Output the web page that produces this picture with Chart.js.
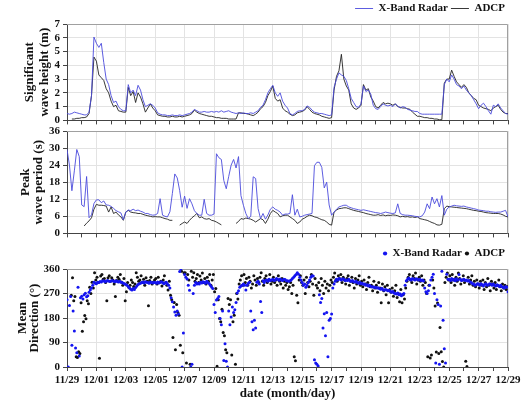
<!DOCTYPE html>
<html>
<head>
<meta charset="utf-8">
<script src="https://cdn.jsdelivr.net/npm/chart.js@4.4.0/dist/chart.umd.min.js"></script>
<style>
  html, body { margin: 0; padding: 0; background: #fff; }
  #wrap { position: relative; width: 527px; height: 403px; overflow: hidden; }
  canvas { position: absolute; left: 0; }
</style>
</head>
<body>
<div id="wrap">
  <canvas id="hs-chart" width="527" height="130" style="top:0px"></canvas>
  <canvas id="tp-chart" width="527" height="123" style="top:120px"></canvas>
  <canvas id="dir-chart" width="527" height="162" style="top:241px"></canvas>
</div>
<script>
// x axis is in days since 11/29 00:00
const dateLabels = ['11/29', '12/01', '12/03', '12/05', '12/07', '12/09', '12/11', '12/13',
  '12/15', '12/17', '12/19', '12/21', '12/23', '12/25', '12/27', '12/29'];

const LINE_STEP = 1 / 6;   // 4 h
const DIR_STEP = 1 / 12;   // 2 h

// significant wave height (m), one row per day
const hsRadar = [
  0.5, 0.45, 0.5, 0.6, 0.55, 0.5,
  0.45, 0.4, 0.4, 0.6, 1.8, 6.05,
  5.6, 5.3, 5.6, 4.2, 3.0, 2.6,
  1.8, 1.3, 1.4, 1.0, 0.8, 0.7,
  0.7, 2.6, 2.0, 2.2, 1.8, 2.55,
  2.2, 1.5, 1.0, 1.1, 1.2, 1.1,
  0.9, 0.55, 0.45, 0.4, 0.4, 0.35,
  0.35, 0.4, 0.35, 0.35, 0.4, 0.35,
  0.4, 0.45, 0.5, 0.6, 0.8, 0.7,
  0.6, 0.6, 0.65, 0.6, 0.6, 0.65,
  0.6, 0.65, 0.6, 0.7, 0.6, 0.65,
  0.7, 0.6, 0.55, 0.5, 0.55, 0.5,
  0.55, 0.5, 0.5, 0.55, 0.5, 0.6,
  0.7, 0.95, 1.1, 1.5, 2.0, 2.3,
  2.55, 2.0, 1.75, 2.0, 1.4, 1.1,
  0.9, 0.5, 0.4, 0.5, 0.65, 0.7,
  0.7, 0.8, 1.05, 0.95, 0.75, 0.6,
  0.55, 0.5, 0.5, 0.45, 0.4, 0.35,
  0.4, 2.4, 3.0, 3.45, 3.3, 3.2,
  2.9, 2.3, 1.6, 1.3, 1.0, 0.95,
  1.2, 2.5, 2.1, 2.2, 1.9, 1.1,
  0.85, 0.8, 1.0, 1.2, 1.1, 1.05,
  1.1, 1.0, 1.2, 1.05, 0.9, 1.0,
  0.95, 0.8, 0.75, 0.7, 0.65, 0.65,
  0.5, 0.45, 0.45, 0.45, 0.45, 0.45,
  0.45, 0.45, 0.45, 0.45, 2.6, 3.0,
  2.8, 3.3, 3.0, 2.6, 2.5, 2.3,
  2.5, 2.2, 2.0, 1.8, 1.5, 1.2,
  0.85, 1.1, 1.25, 1.0, 0.7, 0.45,
  1.1, 1.0, 1.2, 0.9, 0.7, 0.5, 0.45
];
const hsAdcp = [
  null, null, 0.1, 0.1, 0.15, 0.15,
  0.2, 0.2, 0.25, 0.5, 1.8, 4.6,
  4.3, 3.3, 3.1, 2.9, 2.3, 2.0,
  1.4, 1.0, 1.1, 0.7, 0.65, 0.6,
  0.6, 2.4, 1.8, 2.1, 1.3, 2.0,
  1.7, 1.2, 0.6, 0.9, 1.2, 0.9,
  0.7, 0.4, 0.35, 0.3, 0.3, 0.25,
  0.25, 0.3, 0.25, 0.25, 0.3, 0.25,
  0.3, 0.35, 0.4, 0.5, 0.75, 0.6,
  0.5, 0.45, 0.4, 0.35, 0.3, 0.3,
  0.25, 0.2, 0.2, 0.15, 0.15, 0.15,
  0.1, 0.1, 0.1, 0.1, 0.55, 0.55,
  0.5, 0.5, 0.45, 0.4, 0.35, 0.45,
  0.6, 0.85, 1.0, 1.3, 1.8, 2.1,
  2.5, 1.6, 1.4, 1.5, 0.9, 0.7,
  0.6, 0.45, 0.35, 0.4, 0.55, 0.6,
  0.65, 0.75, 1.0, 0.8, 0.6, 0.5,
  0.45, 0.4, 0.3, 0.25, 0.2, 0.15,
  0.2, 2.2, 3.2, 3.6, 4.8, 3.0,
  2.5, 2.2, 1.2, 0.9, 0.8, 0.9,
  1.1, 2.6, 2.2, 2.3, 1.7, 1.4,
  1.0, 0.9, 1.1, 1.3, 1.2, 1.25,
  1.2, 1.1, 1.2, 1.0, 0.95, 0.9,
  0.9, 0.85, 0.8, 0.6, 0.45, 0.3,
  0.3, 0.25, 0.2, 0.2, 0.15, 0.15,
  0.1, 0.1, 0.05, 0.05, 2.7, 3.0,
  3.0, 3.65, 3.2, 2.8, 2.6, 2.4,
  2.6, 2.4, 2.0, 1.8, 1.6, 1.5,
  1.1, 1.0, 0.9, 0.85, 0.8, 0.7,
  0.9, 1.0, 1.1, 0.8, 0.6, 0.5, 0.5
];

// peak wave period (s)
const tpRadar = [
  29.5, 24, 15, 22, 29.5, 27,
  10, 9.4, 20, 5.5, 6.5, 10.5,
  11.8, 11.8, 10.8, 11.4, 10.0, 9.9,
  9.5, 8.8, 8.0, 7.6, 7.2, 4.8,
  7.5, 8.2, 8.0, 8.5, 8.0, 8.2,
  7.8, 7.5, 7.0, 7.0, 6.6, 6.4,
  6.5, 7.0, 12.2, 6.4, 6.0, 5.8,
  7.6, 14.0, 20.9, 19.5, 15.0, 9.2,
  13.1, 8.8, 12.2, 10.4, 8.0, 7.0,
  6.4, 6.4, 12.0, 7.0, 6.4, 6.4,
  6.8, 28, 26.6, 26, 18.6, 15.7,
  20, 24, 26, 23, 27, 13.3,
  9.9, 7.0, 5.2, 6.0, 19.9, 19.3,
  8.7, 5.2, 7.0, 5.0, 6.5, 8.5,
  9.3, 8.5, 8.1, 7.5, 6.4, 6.8,
  6.8, 7.0, 13.6, 6.4, 8.5, 5.8,
  6.0, 6.4, 6.6, 6.8, 7.0, 23.8,
  25, 25, 23.2, 16, 18, 10,
  6.4, 7.5, 8.5, 9.3, 9.6, 9.9,
  9.9, 9.3, 9.0, 8.7, 8.5, 8.3,
  8.1, 8.3, 8.1, 7.9, 7.7, 7.5,
  7.3, 7.2, 7.0, 7.2, 7.5, 7.3,
  7.1, 7.0, 7.2, 10.4, 7.0, 6.6,
  6.4, 6.4, 6.3, 6.2, 6.0, 5.9,
  5.8, 6.2, 7.5, 10.4, 8.7, 12.8,
  10.4, 12.2, 9.3, 13.3, 6.4, 8.5,
  9.3, 9.6, 9.9, 9.7, 9.6, 9.5,
  9.6, 9.3, 9.1, 8.9, 8.7, 8.5,
  8.2, 8.1, 8.0, 7.8, 7.8, 7.6,
  7.5, 7.4, 7.5, 7.5, 7.8, 8.1, 5.8
];
const tpAdcp = [
  null, null, null, null, null, null,
  null, 2.6, 3.6, 4.4, 5.5, 8.5,
  10.2, 9.9, 9.9, 9.8, 9.6, 7.5,
  9.3, 7.0, 7.5, 6.5, 5.8, 4.6,
  7.5, 8.1, 7.5, 7.3, 7.2, 7.0,
  7.0, 6.7, 6.4, 6.2, 6.0, 5.8,
  5.9, 5.8, 5.8, 5.5, 5.2, 5.0,
  4.6, 4.6, null, null, 2.9, 3.5,
  4.0, 3.5, 4.6, 5.5, 6.2, 7.0,
  5.5, 5.8, 5.2, 5.0, 5.2, 4.6,
  4.4, 4.0, 3.5, 3.0, null, null,
  null, null, null, 3.5, 4.2, 5.2,
  5.0, 5.4, 5.2, 5.0, 4.6, 4.0,
  4.6, 5.2, 4.8, 3.5, 5.0, 7.0,
  8.1, 7.5, 7.0, 5.8, 6.2, 6.4,
  6.4, 5.8, 5.2, 4.6, 3.5, 4.0,
  5.0, 5.4, 6.0, 6.4, 6.2, 5.8,
  5.6, 5.2, 4.8, 4.6, 4.0, 3.2,
  2.9, 7.5, 8.2, 8.7, 8.8, 9.0,
  9.0, 8.7, 8.4, 8.1, 7.9, 7.7,
  7.5, 7.3, 7.0, 6.8, 6.6, 6.4,
  6.4, 6.6, 6.3, 6.5, 6.2, 6.4,
  6.3, 6.5, 6.4, 6.2, 5.8, 6.0,
  5.8, 5.9, 5.7, 5.8, 5.6, 5.8,
  5.2, 5.0, 4.8, 4.6, 4.2, 3.8,
  3.5, 3.0, 2.9, 3.2, 8.7, 9.6,
  9.4, 9.3, 9.2, 9.1, 9.0, 8.9,
  8.8, 8.7, 8.5, 8.3, 8.1, 8.0,
  7.8, 7.7, 7.5, 7.3, 7.2, 7.1,
  7.0, 7.0, 7.0, 6.8, 6.5, 6.0, 5.8
];

// mean direction (deg), 2-hourly; ADCP samples sit 1 h later
const dirRadar = [
  247, 0, 226, 259, 80, 206, 132, 70, 52, 293, 40, 254,
  260, 250, 265, 271, 258, 262, 275, 283, 290, 300, 311, 308,
  306, 311, 310, 314, 312, 316, 317, 313, 315, 318, 316, 314,
  316, 318, 315, 313, 317, 314, 312, 315, 311, 310, 308, 306,
  303, 300, 296, 290, 286, 283, 288, 285, 292, 298, 303, 306,
  308, 310, 312, 309, 313, 311, 310, 308, 312, 310, 309, 311,
  310, 308, 312, 309, 311, 313, 310, 306, 309, 311, 305, 300,
  290, 254, 240, 220, 202, 190, 206, 195, 351, 360, 0, 125,
  340, 330, 323, 300, 282, 0, 10, 270, 300, 310, 305, 308,
  305, 311, 309, 313, 311, 308, 315, 310, 307, 300, 294, 288,
  230, 200, 246, 252, 259, 178, 155, 206, 24, 85, 21, 0,
  206, 155, 184, 220, 200, 210, 237, 272, 280, 293, 298, 300,
  305, 300, 283, 300, 308, 311, 206, 166, 137, 172, 143, 311,
  315, 305, 241, 200, 317, 310, 318, 320, 315, 322, 318, 320,
  322, 318, 320, 325, 322, 319, 323, 320, 318, 322, 321, 317,
  317, 315, 317, 320, 325, 330, 335, 340, 346, 341, 330, 320,
  310, 300, 305, 293, 300, 310, 320, 330, 335, 334, 27, 15,
  10, 4, 265, 237, 252, 143, 196, 115, 200, 38, 172, 178,
  195, 290, 305, 315, 322, 320, 325, 322, 320, 324, 322, 318,
  320, 318, 322, 316, 315, 318, 313, 312, 315, 310, 308, 311,
  306, 308, 304, 305, 300, 302, 298, 300, 296, 294, 295, 292,
  293, 290, 291, 288, 286, 289, 284, 282, 285, 283, 280, 282,
  278, 275, 277, 272, 270, 268, 272, 265, 268, 262, 266, 270,
  300, 317, 322, 327, 322, 320, 325, 322, 320, 324, 322, 320,
  322, 318, 320, 316, 290, 276, 270, 280, 300, 320, 330, 341,
  270, 15, 247, 230, 10, 224, 352, 172, 67, 15, 341, 322,
  322, 318, 325, 320, 322, 317, 324, 320, 340, 322, 318, 320,
  322, 318, 320, 316, 318, 312, 310, 306, 305, 300, 302, 306,
  305, 300, 306, 302, 298, 304, 306, 300, 302, 306, 304, 300,
  305, 300, 298, 302, 299, 296, 300, 295, 293, 290, 296, 293, 276
];
const dirAdcp = [
  null, null, null, 264, 328, 243, 259, 38, 35, 56, 50, 236,
  131, 166, 189, 177, 243, 232, 293, 270, 311, 290, 346, 320,
  330, 310, 32, 334, 340, 322, 325, 310, 243, 328, 335, 315,
  328, 320, 305, 259, 318, 330, 322, 340, 312, 300, 325, 243,
  276, 310, 292, 300, 320, 310, 296, 305, 346, 330, 315, 320,
  335, 310, 322, 300, 328, 315, 225, 318, 330, 305, 312, 320,
  325, 305, 330, 310, 315, 298, 320, 335, 310, 300, 283, 315,
  264, 247, 108, 237, 63, 230, 200, 190, 80, 352, 52, 346,
  346, 15, 340, 320, 10, 352, 330, 346, 315, 325, 340, 310,
  334, 320, 345, 310, 325, 305, 330, 315, 340, 300, 320, 340,
  276, 288, 3, 247, 178, 166, 212, 127, 115, 63, 52, 252,
  230, 247, 44, 166, 190, 10, 270, 250, 305, 320, 335, 300,
  340, 310, 325, 300, 330, 315, 290, 305, 335, 320, 300, 325,
  310, 330, 346, 315, 300, 325, 335, 310, 320, 340, 305, 315,
  330, 310, 320, 300, 335, 315, 305, 325, 290, 315, 300, 310,
  285, 295, 310, 270, 300, 38, 23, 264, 236, 320, 335, 310,
  300, 320, 270, 330, 310, 295, 315, 340, 305, 264, 325, 300,
  290, 310, 280, 325, 300, 270, 315, 290, 305, 280, 300, 320,
  310, 330, 345, 320, 315, 335, 325, 340, 310, 330, 320, 305,
  325, 335, 300, 315, 330, 310, 290, 325, 305, 320, 335, 300,
  315, 295, 320, 305, 285, 310, 330, 295, 300, 280, 315, 290,
  300, 275, 310, 290, 236, 305, 280, 295, 265, 300, 236, 285,
  275, 290, 260, 280, 300, 255, 270, 240, 285, 236, 265, 250,
  290, 315, 330, 340, 320, 310, 335, 325, 345, 305, 320, 330,
  315, 335, 300, 320, 310, 270, 38, 300, 33, 44, 320, 290,
  224, 55, 235, 50, 145, 56, 20, 0, 310, 330, 345, 320,
  335, 310, 340, 320, 300, 330, 315, 345, 325, 305, 320, 335,
  310, 21, 2, 330, 305, 320, 335, 300, 315, 295, 320, 305,
  290, 315, 300, 320, 285, 310, 295, 325, 300, 280, 315, 305,
  290, 310, 285, 300, 320, 295, 280, 305, 290, 300, 285, 295
];

const toPoints = (vals, step, offset) => vals.map((v, i) => ({ x: offset + i * step, y: v }));

const SERIF = 'Liberation Serif';
const tickFont = { family: SERIF, size: 11, weight: 'bold' };

// top and right edges of the plot box
const frame = {
  id: 'frame',
  beforeDatasetsDraw(chart) {
    const { ctx, chartArea: a } = chart;
    ctx.save();
    ctx.strokeStyle = '#a0a0a0';
    ctx.lineWidth = 1;
    ctx.beginPath();
    ctx.moveTo(a.left, Math.round(a.top) + 0.5);
    ctx.lineTo(Math.round(a.right) - 0.5, Math.round(a.top) + 0.5);
    ctx.lineTo(Math.round(a.right) - 0.5, a.bottom);
    ctx.stroke();
    ctx.restore();
  }
};

function panelOptions(o) {
  return {
    responsive: false,
    animation: false,
    layout: { padding: { top: o.padTop, right: 19, bottom: o.padBottom, left: 0 } },
    plugins: {
      tooltip: { enabled: false },
      legend: o.legend ? {
        position: 'top',
        align: 'end',
        labels: Object.assign({
          font: { family: SERIF, size: 11, weight: 'bold' },
          color: '#111',
          padding: 3
        }, o.legend)
      } : { display: false }
    },
    scales: {
      x: {
        type: 'linear',
        min: 0,
        max: 30,
        afterFit(s) { s.height = o.xHeight; },
        ticks: {
          stepSize: 1,
          autoSkip: false,
          maxRotation: 0,
          padding: 3,
          font: tickFont,
          color: '#111',
          callback: v => (o.dates && v % 2 === 0) ? dateLabels[v / 2] : ''
        },
        grid: {
          color: c => (c.tick && c.tick.value % 2 === 0) ? '#e3e3e3' : 'rgba(0,0,0,0)',
          tickColor: '#444',
          tickLength: 4
        },
        border: { color: '#444' },
        title: o.dates ? {
          display: true,
          text: 'date (month/day)',
          font: { family: SERIF, size: 13, weight: 'bold' },
          color: '#111',
          padding: { top: 0, bottom: 2 }
        } : { display: false }
      },
      y: {
        min: o.yMin,
        max: o.yMax,
        afterFit(s) { s.width = 67; },
        ticks: { stepSize: o.yStep, autoSkip: false, font: tickFont, color: '#111', padding: 3 },
        grid: { color: '#e3e3e3', tickColor: '#444', tickLength: 4 },
        border: { color: '#444' },
        title: {
          display: true,
          text: o.yTitle,
          font: { family: SERIF, size: 13, weight: 'bold', lineHeight: o.titleLh },
          color: '#111',
          padding: { top: o.titlePad, bottom: 0 }
        }
      }
    }
  };
}

const radarLine = '#4b4bdc';
const adcpLine = '#222222';

new Chart(document.getElementById('hs-chart'), {
  type: 'line',
  data: {
    datasets: [
      { label: 'X-Band Radar', data: toPoints(hsRadar, LINE_STEP, 0), borderColor: radarLine,
        backgroundColor: radarLine, borderWidth: 0.9, pointRadius: 0, spanGaps: false },
      { label: 'ADCP', data: toPoints(hsAdcp, LINE_STEP, 0), borderColor: adcpLine,
        backgroundColor: adcpLine, borderWidth: 0.9, pointRadius: 0, spanGaps: false }
    ]
  },
  options: panelOptions({
    padTop: 0, padBottom: 4, xHeight: 5, dates: false,
    legend: { usePointStyle: true, pointStyle: 'line', pointStyleWidth: 18 },
    yMin: 0, yMax: 7, yStep: 1,
    yTitle: ['Significant', 'wave height (m)'], titleLh: '15px', titlePad: 22.5
  }),
  plugins: [frame]
});

new Chart(document.getElementById('tp-chart'), {
  type: 'line',
  data: {
    datasets: [
      { label: 'X-Band Radar', data: toPoints(tpRadar, LINE_STEP, 0), borderColor: radarLine,
        borderWidth: 0.9, pointRadius: 0, spanGaps: false },
      { label: 'ADCP', data: toPoints(tpAdcp, LINE_STEP, 0), borderColor: adcpLine,
        borderWidth: 0.9, pointRadius: 0, spanGaps: false }
    ]
  },
  options: panelOptions({
    padTop: 11, padBottom: 2, xHeight: 5, dates: false, legend: null,
    yMin: 0, yMax: 36, yStep: 6,
    yTitle: ['Peak', 'wave period (s)'], titleLh: '13px', titlePad: 19.5
  }),
  plugins: [frame]
});

new Chart(document.getElementById('dir-chart'), {
  type: 'scatter',
  data: {
    datasets: [
      { label: 'X-Band Radar', data: toPoints(dirRadar, DIR_STEP, 0), backgroundColor: '#1414f0',
        borderWidth: 0, pointRadius: 1.5 },
      { label: 'ADCP', data: toPoints(dirAdcp, DIR_STEP, DIR_STEP / 2), backgroundColor: '#111111',
        borderWidth: 0, pointRadius: 1.5 }
    ]
  },
  options: panelOptions({
    padTop: 4, padBottom: 0, xHeight: 36, dates: true,
    legend: { usePointStyle: true, pointStyle: 'circle', boxWidth: 4, boxHeight: 3 },
    yMin: 0, yMax: 360, yStep: 90,
    yTitle: ['Mean', 'Direction (°)'], titleLh: '12px', titlePad: 16.5
  }),
  plugins: [frame]
});
</script>
</body>
</html>
